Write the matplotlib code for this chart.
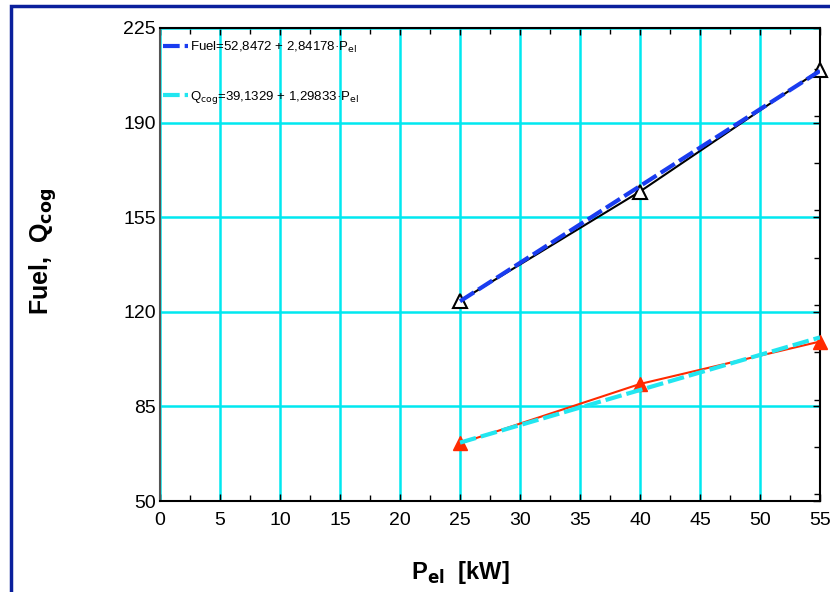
import matplotlib
matplotlib.use("Agg")
import matplotlib.pyplot as plt
from matplotlib.patches import Rectangle
from matplotlib.ticker import MultipleLocator
import numpy as np

plt.rcParams['font.family'] = ['Liberation Sans', 'DejaVu Sans']

p_el = [25, 40, 55]
fuel = [124.0, 164.5, 209.5]
q_cog = [71.3, 93.3, 109.0]
fuel_fit = (52.8472, 2.84178)
q_fit = (39.1329, 1.29833)
fit_x = [25, 55]
xticks = list(range(0, 60, 5))
yticks = [50, 85, 120, 155, 190, 225]

fig = plt.figure(figsize=(8.30, 5.92), dpi=100)
fig.patches.append(Rectangle((11/830, -0.1), 1.2, 1 - 6/592 + 0.1, transform=fig.transFigure,
                             fill=False, edgecolor='#0a1f9c', linewidth=2.5, zorder=10))
ax = fig.add_axes([160/830, 1 - 501/592, 660/830, 473/592])

ax.set_xlim(0, 55)
ax.set_ylim(50, 225)
ax.set_xticks(xticks)
ax.set_yticks(yticks)
ax.xaxis.set_minor_locator(MultipleLocator(2.5))
ax.yaxis.set_minor_locator(MultipleLocator(17.5))
ax.grid(True, which='major', color='#00e8f0', linewidth=1.8, zorder=0)
ax.tick_params(which='both', direction='in', top=True, right=True, left=False,
               labelsize=14, color='black')
ax.tick_params(which='major', length=5, width=1)
ax.tick_params(which='minor', length=4, width=1)
ax.tick_params(axis='y', which='both', left=False, pad=3)
ax.tick_params(axis='x', pad=8)
for s in ax.spines.values():
    s.set_linewidth(1.5)
ax.spines['left'].set_color('#555555')

fx = np.array(fit_x)
l1, = ax.plot(fx, fuel_fit[0] + fuel_fit[1] * fx, color='#1a3cf0', linestyle=(0, (4, 1.2)),
              linewidth=3, zorder=4, label='Fuel=52,8472 + 2,84178·P$_{\\mathrm{el}}$')
ax.plot(p_el, fuel, color='black', linewidth=1.5, marker='^', markersize=10,
        markerfacecolor='white', markeredgecolor='black', markeredgewidth=1.5, zorder=3, clip_on=False)
l2, = ax.plot(fx, q_fit[0] + q_fit[1] * fx, color='#22e6f0', linestyle=(0, (4, 1.2)),
              linewidth=3, zorder=4, label='Q$_{\\mathrm{cog}}$=39,1329 + 1,29833·P$_{\\mathrm{el}}$')
ax.plot(p_el, q_cog, color='#ff2a00', linewidth=1.5, marker='^', markersize=10,
        markerfacecolor='#ff2a00', markeredgecolor='#ff2a00', zorder=3, clip_on=False)

leg = ax.legend(handles=[l1, l2], loc='upper left', frameon=False, fontsize=9.5,
                handlelength=1.9, handletextpad=0.15, labelspacing=2.6,
                bbox_to_anchor=(-0.01, 0.995), borderaxespad=0.3)

fig.text(43/830, 1 - 251/592, 'Fuel,  Q$_{\\mathbf{cog}}$', fontsize=18, fontweight='bold',
         rotation=90, ha='center', va='center')
fig.text(460/830, 1 - 572/592, 'P$_{\\mathbf{el}}$  [kW]', fontsize=17, fontweight='bold',
         ha='center', va='center')

fig.savefig('out.png', dpi=100)
